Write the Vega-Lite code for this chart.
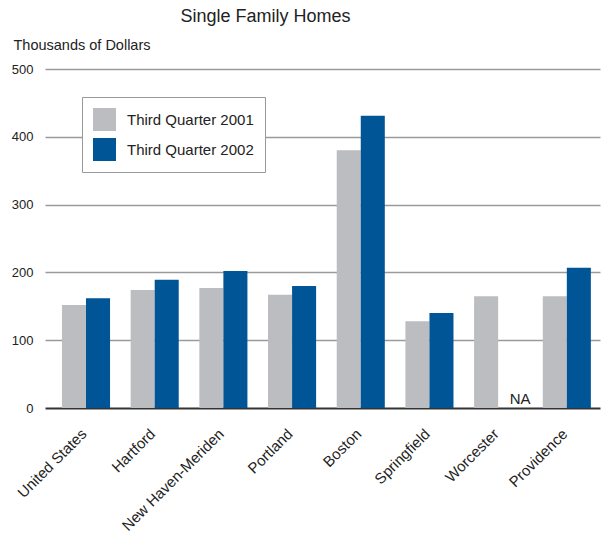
{
  "$schema": "https://vega.github.io/schema/vega-lite/v6.json",
  "width": 555,
  "height": 339,
  "autosize": {"type": "none"},
  "padding": {"left": 45, "top": 69, "right": 3, "bottom": 133},
  "background": "white",
  "title": {
    "text": "Single Family Homes",
    "font": "Liberation Sans",
    "fontSize": 18,
    "fontWeight": "normal",
    "color": "#222",
    "anchor": "middle",
    "frame": "group",
    "dx": -57,
    "offset": 11
  },
  "config": {
    "view": {"stroke": null},
    "font": "Liberation Sans"
  },
  "data": {
    "values": [
      {"city": "United States", "period": "Third Quarter 2001", "value": 152},
      {"city": "United States", "period": "Third Quarter 2002", "value": 162},
      {"city": "Hartford", "period": "Third Quarter 2001", "value": 174},
      {"city": "Hartford", "period": "Third Quarter 2002", "value": 189},
      {"city": "New Haven-Meriden", "period": "Third Quarter 2001", "value": 177},
      {"city": "New Haven-Meriden", "period": "Third Quarter 2002", "value": 202},
      {"city": "Portland", "period": "Third Quarter 2001", "value": 167},
      {"city": "Portland", "period": "Third Quarter 2002", "value": 180},
      {"city": "Boston", "period": "Third Quarter 2001", "value": 380},
      {"city": "Boston", "period": "Third Quarter 2002", "value": 431},
      {"city": "Springfield", "period": "Third Quarter 2001", "value": 128},
      {"city": "Springfield", "period": "Third Quarter 2002", "value": 140},
      {"city": "Worcester", "period": "Third Quarter 2001", "value": 165},
      {"city": "Worcester", "period": "Third Quarter 2002", "value": null, "note": "NA"},
      {"city": "Providence", "period": "Third Quarter 2001", "value": 165},
      {"city": "Providence", "period": "Third Quarter 2002", "value": 207}
    ]
  },
  "encoding": {
    "x": {
      "field": "city",
      "type": "nominal",
      "sort": null,
      "scale": {"paddingInner": 0.3, "paddingOuter": 0.19, "align": 0.65},
      "axis": {
        "title": null,
        "labelAngle": -45,
        "labelFontSize": 15,
        "labelColor": "#222",
        "labelAlign": "right",
        "labelBaseline": "middle",
        "labelPadding": 23,
        "labelOffset": -2,
        "ticks": false,
        "domain": false
      }
    },
    "xOffset": {"field": "period", "type": "nominal"}
  },
  "layer": [
    {
      "mark": {"type": "bar"},
      "encoding": {
        "y": {
          "field": "value",
          "type": "quantitative",
          "scale": {"domain": [0, 500], "nice": false},
          "axis": {
            "values": [0, 100, 200, 300, 400, 500],
            "title": "Thousands of Dollars",
            "titleAngle": 0,
            "titleX": -32,
            "titleY": -24,
            "titleAlign": "left",
            "titleBaseline": "middle",
            "titleFontSize": 14.5,
            "titleFontWeight": "normal",
            "titleColor": "#222",
            "labelFontSize": 13,
            "labelColor": "#222",
            "labelPadding": 12,
            "ticks": false,
            "domain": false,
            "grid": true,
            "gridColor": {"condition": {"test": "datum.value === 0", "value": "#333"}, "value": "#9a9a9a"},
            "gridWidth": {"condition": {"test": "datum.value === 0", "value": 2}, "value": 1.5}
          }
        },
        "color": {
          "field": "period",
          "type": "nominal",
          "scale": {"range": ["#bcbdc1", "#005596"]},
          "legend": {
            "title": null,
            "orient": "none",
            "legendX": 37,
            "legendY": 28,
            "direction": "vertical",
            "symbolType": "square",
            "symbolSize": 529,
            "symbolStrokeWidth": 0,
            "symbolOpacity": 1,
            "labelFontSize": 15,
            "labelColor": "#222",
            "labelOffset": 11,
            "rowPadding": 7,
            "padding": 11,
            "strokeColor": "#999",
            "fillColor": "white",
            "zindex": 5
          }
        }
      }
    },
    {
      "mark": {"type": "text", "fontSize": 15, "color": "#222", "dx": 10, "baseline": "bottom", "dy": -1},
      "transform": [{"filter": "datum.note === 'NA'"}],
      "encoding": {
        "y": {"datum": 0, "type": "quantitative"},
        "text": {"field": "note"}
      }
    }
  ]
}
